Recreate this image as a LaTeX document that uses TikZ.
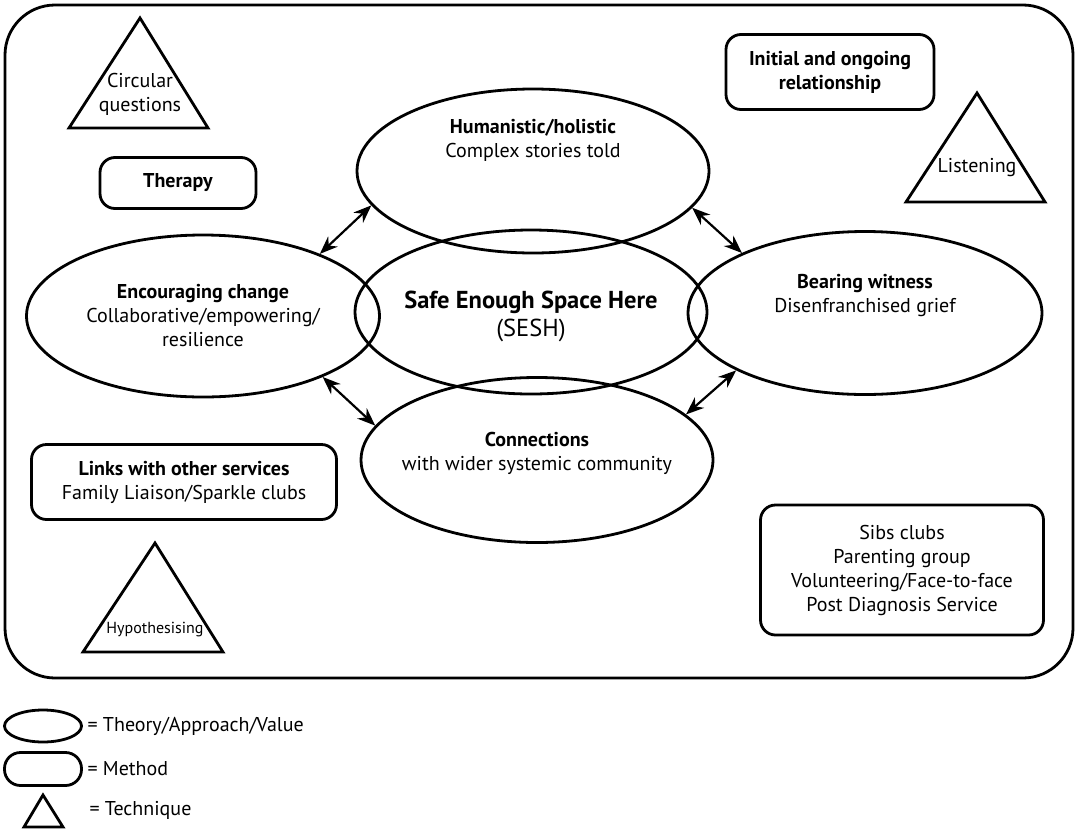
\documentclass[tikz,border=0pt]{standalone}
\usepackage{fontspec}
\setmainfont{PT Sans}
\usetikzlibrary{shapes.geometric,arrows.meta}

\tikzset{
  every node/.style={font=\fontsize{20}{24}\selectfont, align=center},
  approach/.style={draw, ellipse, line width=2.8pt, inner sep=0pt},
  method/.style={draw, rounded corners=15pt, line width=2.8pt, inner sep=0pt},
  technique/.style={line width=2.8pt, line join=miter},
  link/.style={{Stealth[length=18pt,width=14pt]}-{Stealth[length=18pt,width=14pt]}, line width=2.2pt}
}

\begin{document}
\begin{tikzpicture}[x=1pt,y=-1pt]
\useasboundingbox (0,0) rectangle (1078,830);
\draw[line width=2.8pt, rounded corners=50pt] (5,5) rectangle (1073,678);

% the five values
\node[approach, minimum width=352pt, minimum height=164pt] (hum) at (533,171) {};
\node[approach, minimum width=352pt, minimum height=164pt] (sesh) at (531,312) {};
\node[approach, minimum width=353pt, minimum height=162pt] (enc) at (203,316) {};
\node[approach, minimum width=354pt, minimum height=163pt] (bear) at (865,313) {};
\node[approach, minimum width=352pt, minimum height=165pt] (conn) at (537,460) {};

\node (humtxt) at (533,140) {\textbf{Humanistic/holistic}\\Complex stories told};
\node[font=\fontsize{24.5}{28}\selectfont] (seshtxt) at (531,316) {\textbf{Safe Enough Space Here}\\(SESH)};
\node (enctxt) at (203,316) {\textbf{Encouraging change}\\Collaborative/empowering/\\resilience};
\node (beartxt) at (865,296) {\textbf{Bearing witness}\\Disenfranchised grief};
\node (conntxt) at (537,453) {\textbf{Connections}\\with wider systemic community};

\draw[link] (enc.28) -- (hum.192);
\draw[link] (hum.347) -- (bear.154);
\draw[link] (enc.333) -- (conn.168);
\draw[link] (bear.204) -- (conn.17);

% methods
\node[method, minimum width=156pt, minimum height=51pt] (therapy) at (178,183) {\textbf{Therapy}};
\node[method, minimum width=208pt, minimum height=75pt] (initial) at (830,72) {\textbf{Initial and ongoing}\\\textbf{relationship}};
\node[method, minimum width=305pt, minimum height=75pt] (links) at (184,482) {\textbf{Links with other services}\\Family Liaison/Sparkle clubs};
\node[method, minimum width=283pt, minimum height=130pt] (sibs) at (902,570) {Sibs clubs\\Parenting group\\Volunteering/Face-to-face\\Post Diagnosis Service};

% techniques
\draw[technique] (69,128) -- (140,18) -- (208,128) -- cycle;
\node (circ) at (140,94) {Circular\\questions};
\draw[technique] (906,202) -- (977,93) -- (1045,202) -- cycle;
\node (listen) at (977,168) {Listening};
\draw[technique] (83,652) -- (155,543) -- (223,652) -- cycle;
\node[font=\fontsize{16}{20}\selectfont] (hypo) at (155,630) {Hypothesising};

% key
\node[approach, minimum width=77pt, minimum height=32pt] (keyapp) at (43,726) {};
\node[anchor=west] (keyapptxt) at (84,726) {= Theory/Approach/Value};
\node[method, rounded corners=16pt, minimum width=77pt, minimum height=33pt] (keymeth) at (43,769) {};
\node[anchor=west] (keymethtxt) at (84,769) {= Method};
\draw[technique] (24,827) -- (43,795) -- (63,827) -- cycle;
\node[anchor=west] (keytechtxt) at (86,810) {= Technique};
\end{tikzpicture}
\end{document}
